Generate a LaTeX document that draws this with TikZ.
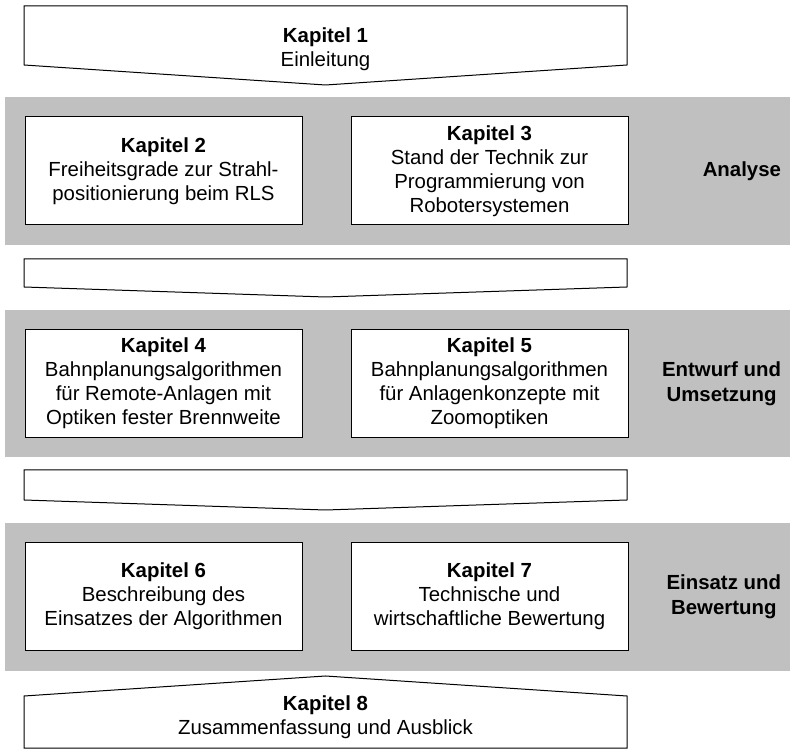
\documentclass[tikz,border=0pt]{standalone}
\usepackage{fontspec}
\setmainfont{Liberation Sans}
\definecolor{bandgray}{RGB}{192,192,192}
\begin{document}
\begin{tikzpicture}[x=0.75pt,y=-0.75pt,
  every node/.style={font=\fontsize{15.3}{18}\selectfont, align=center, inner sep=0pt, outer sep=0pt},
  chapbox/.style={draw=black, line width=0.75pt, fill=white,
    minimum width=207.75pt, minimum height=81pt},
  chevron/.style={draw=black, line width=0.75pt, fill=white, line join=miter},
  band/.style={fill=bandgray},
  phase/.style={anchor=east, font=\fontsize{15.3}{18.5}\selectfont\bfseries}]
\useasboundingbox (0,0) rectangle (790,752);

% phase bands
\fill[band] (5,97) rectangle (790,245);
\fill[band] (5,310) rectangle (790,457);
\fill[band] (5,523) rectangle (790,671);

% chevrons between the phases
\draw[chevron] (24,6) -- (627,6) -- (627,65) -- (325.5,85) -- (24,65) -- cycle;
\draw[chevron] (24,259) -- (627,259) -- (627,287) -- (325.5,297) -- (24,287) -- cycle;
\draw[chevron] (24,470) -- (627,470) -- (627,500) -- (325.5,510) -- (24,500) -- cycle;
\draw[chevron] (325.5,676) -- (627,696) -- (627,748) -- (24,748) -- (24,696) -- cycle;

\node (k1) at (325.5,49) {\textbf{Kapitel 1}\\Einleitung};
\node (k8) at (325.5,717) {\textbf{Kapitel 8}\\Zusammenfassung und Ausblick};

% chapter boxes
\node[chapbox] (k2) at (163.5,171) {\textbf{Kapitel 2}\\Freiheitsgrade zur Strahl-\\positionierung beim RLS};
\node[chapbox] (k3) at (489.5,171) {\textbf{Kapitel 3}\\Stand der Technik zur\\Programmierung von\\Robotersystemen};
\node[chapbox] (k4) at (163.5,383.5) {\textbf{Kapitel 4}\\Bahnplanungsalgorithmen\\für Remote-Anlagen mit\\Optiken fester Brennweite};
\node[chapbox] (k5) at (489.5,383.5) {\textbf{Kapitel 5}\\Bahnplanungsalgorithmen\\für Anlagenkonzepte mit\\Zoomoptiken};
\node[chapbox] (k6) at (163.5,596.5) {\textbf{Kapitel 6}\\Beschreibung des\\Einsatzes der Algorithmen};
\node[chapbox] (k7) at (489.5,596.5) {\textbf{Kapitel 7}\\Technische und\\wirtschaftliche Bewertung};

% phase labels
\node[phase] (p1) at (781,171) {Analyse};
\node[phase] (p2) at (781,383.5) {Entwurf und\\Umsetzung};
\node[phase] (p3) at (781,597) {Einsatz und\\Bewertung};
\end{tikzpicture}
\end{document}
